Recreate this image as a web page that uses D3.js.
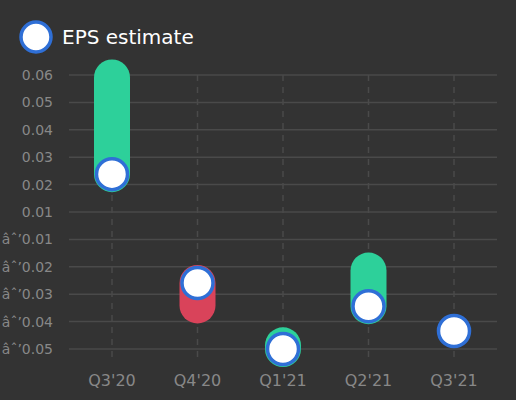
<!DOCTYPE html><html><head><script src="https://cdn.jsdelivr.net/npm/d3@7"></script>
<style>body{margin:0;background:#333}</style></head><body><svg width="516" height="400"></svg>
<script>
const categories=["Q3'20","Q4'20","Q1'21","Q2'21","Q3'21"];
const actual=[0.059,-0.0325,-0.0485,-0.0185,null];
const estimate=[0.0202,-0.0235,-0.05,-0.0328,-0.0428];
const ticks=d3.range(11).map(i=>0.06-i*0.011);
const svg=d3.select("svg");
svg.append("rect").attr("width",516).attr("height",400).attr("fill","#333");
const x=d3.scalePoint().domain(categories).range([69.25,496.75]).padding(0.5);
const y=d3.scaleLinear().domain([-0.05,0.06]).range([349,75]);
svg.append("g").selectAll("line").data(ticks).join("line").attr("x1",69).attr("x2",497)
 .attr("y1",d=>y(d)).attr("y2",d=>y(d)).attr("stroke","#4a4a4a").attr("stroke-width",1.5);
svg.append("g").selectAll("line").data(categories).join("line").attr("x1",d=>x(d)).attr("x2",d=>x(d))
 .attr("y1",75).attr("y2",360).attr("stroke","#4a4a4a").attr("stroke-width",1.5).attr("stroke-dasharray","6,6");
svg.append("g").selectAll("text").data(ticks).join("text").attr("x",53).attr("y",d=>y(d)).attr("dy","0.35em")
 .attr("text-anchor","end").attr("fill","#888").attr("font-family","DejaVu Sans").attr("font-size",14).text(d=>d3.format(".2f")(d).replace("-","-"));
svg.append("g").selectAll("text").data(categories).join("text").attr("x",d=>x(d)).attr("y",386)
 .attr("text-anchor","middle").attr("fill","#888").attr("font-family","DejaVu Sans").attr("font-size",16).text(d=>d);
const bars=categories.map((c,i)=>({c,a:actual[i],e:estimate[i]})).filter(d=>d.a!==null);
svg.append("g").selectAll("line").data(bars).join("line").attr("x1",d=>x(d.c)).attr("x2",d=>x(d.c))
 .attr("y1",d=>y(d.a)).attr("y2",d=>y(d.e)).attr("stroke",d=>d.a>=d.e?"#2dd09a":"#d9435a")
 .attr("stroke-width",36).attr("stroke-linecap","round");
svg.append("g").selectAll("circle").data(categories).join("circle").attr("cx",d=>x(d)).attr("cy",(d,i)=>y(estimate[i]))
 .attr("r",15.5).attr("fill","#fff").attr("stroke","#2f6fd6").attr("stroke-width",3.5);
svg.append("circle").attr("cx",36).attr("cy",37).attr("r",15).attr("fill","#fff").attr("stroke","#2f6fd6").attr("stroke-width",3.5);
svg.append("text").attr("x",62).attr("y",44).attr("fill","#fff").attr("font-family","DejaVu Sans").attr("font-size",20).text("EPS estimate");
</script></body></html>
